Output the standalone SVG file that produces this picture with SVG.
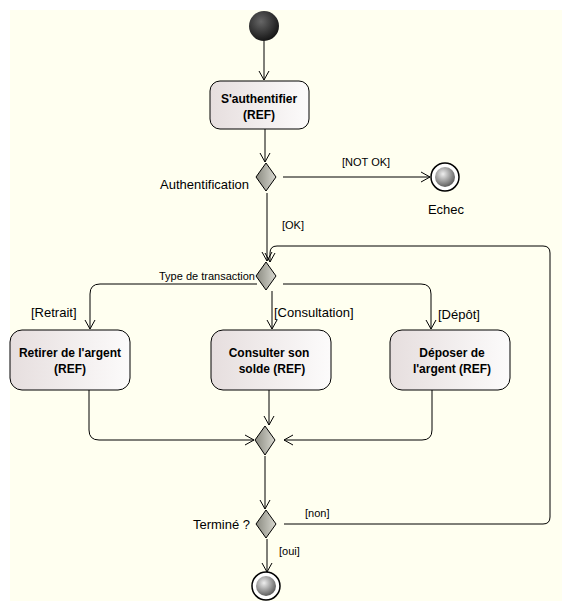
<svg xmlns="http://www.w3.org/2000/svg" width="572" height="612" viewBox="0 0 572 612">
<defs>
<linearGradient id="act" x1="0" y1="0" x2="1" y2="0"><stop offset="0" stop-color="#e6dede"/><stop offset="1" stop-color="#fcfbfb"/></linearGradient>
<linearGradient id="dia" x1="0" y1="0" x2="1" y2="0"><stop offset="0" stop-color="#8a8a80"/><stop offset="1" stop-color="#d8d8d0"/></linearGradient>
<radialGradient id="start" cx="0.4" cy="0.35" r="0.7"><stop offset="0" stop-color="#666"/><stop offset="1" stop-color="#111"/></radialGradient>
<radialGradient id="fin" cx="0.4" cy="0.35" r="0.7"><stop offset="0" stop-color="#eee"/><stop offset="1" stop-color="#555"/></radialGradient>
<marker id="arr" markerWidth="12" markerHeight="12" refX="10" refY="6" orient="auto" markerUnits="userSpaceOnUse"><path d="M1,1 L10,6 L1,11" fill="none" stroke="#000" stroke-width="1"/></marker>
</defs>
<style>
.act{fill:url(#act);stroke:#000;stroke-width:1}
.dia{fill:url(#dia);stroke:#000;stroke-width:1}
.t{font-family:"Liberation Sans",Arial,sans-serif;font-size:13px;fill:#000}
.b{font-family:"Liberation Sans",Arial,sans-serif;font-size:12px;font-weight:bold;fill:#000;text-anchor:middle}
.s{font-family:"Liberation Sans",Arial,sans-serif;font-size:11px;fill:#000}
.c{fill:none;stroke:#000;stroke-width:1}
</style>
<rect x="0" y="0" width="572" height="612" fill="#fff"/>
<rect x="10" y="10" width="552" height="591" fill="#fffff0"/>
<g id="connectors">
<path class="c" d="M264,41 V80" marker-end="url(#arr)"/>
<path class="c" d="M265,129 V162" marker-end="url(#arr)"/>
<path class="c" d="M283,177 H430" marker-end="url(#arr)"/>
<path class="c" d="M267,193 V261" marker-end="url(#arr)"/>
<path class="c" d="M257,284 H100 Q90,284 90,294 V329" marker-end="url(#arr)"/>
<path class="c" d="M272,291 V329" marker-end="url(#arr)"/>
<path class="c" d="M283,284 H421 Q431,284 431,294 V329" marker-end="url(#arr)"/>
<path class="c" d="M89,390 V430 Q89,440 99,440 H254" marker-end="url(#arr)"/>
<path class="c" d="M269,390 V425" marker-end="url(#arr)"/>
<path class="c" d="M432,390 V430 Q432,440 422,440 H284" marker-end="url(#arr)"/>
<path class="c" d="M265,456 V509" marker-end="url(#arr)"/>
<path class="c" d="M284,524 H543 Q550,524 550,517 V253 Q550,246 543,246 H277 Q270,246 270,253 V262" marker-end="url(#arr)"/>
<path class="c" d="M267,539 V572" marker-end="url(#arr)"/>
<text class="s" x="342" y="166">[NOT OK]</text>
<text class="s" x="282" y="229">[OK]</text>
<text class="t" x="31" y="317">[Retrait]</text>
<text class="t" x="274" y="317">[Consultation]</text>
<text class="t" x="438" y="319">[Dépôt]</text>
<text class="s" x="305" y="517">[non]</text>
<text class="s" x="279" y="555">[oui]</text>
</g>
<g id="start"><circle cx="264" cy="26" r="15" fill="url(#start)"/></g>
<g id="authentifier"><rect class="act" x="210" y="81" width="99" height="48" rx="10"/><text class="b" x="259" y="103">S'authentifier</text><text class="b" x="259" y="119">(REF)</text></g>
<g id="d-auth"><path class="dia" d="M266,163 L276,177 L266,191 L256,177 Z"/><text class="t" x="249" y="189" text-anchor="end">Authentification</text></g>
<g id="echec"><circle cx="445" cy="177" r="14" fill="#fff" stroke="#000" stroke-width="1.5"/><circle cx="445" cy="177" r="10" fill="url(#fin)"/><text class="t" x="446" y="214" text-anchor="middle">Echec</text></g>
<g id="d-type"><path class="dia" d="M266,262 L276,276 L266,290 L256,276 Z"/><text class="s" x="255" y="280" text-anchor="end">Type de transaction</text></g>
<g id="retirer"><rect class="act" x="10" y="330" width="120" height="60" rx="12"/><text class="b" x="70" y="357">Retirer de l'argent</text><text class="b" x="70" y="373">(REF)</text></g>
<g id="consulter"><rect class="act" x="211" y="330" width="120" height="60" rx="12"/><text class="b" x="269" y="357">Consulter son</text><text class="b" x="272" y="373">solde (REF)</text></g>
<g id="deposer"><rect class="act" x="390" y="330" width="120" height="60" rx="12"/><text class="b" x="452" y="357">Déposer de</text><text class="b" x="452" y="373">l'argent (REF)</text></g>
<g id="d-merge"><path class="dia" d="M265,426 L275,440 L265,455 L255,440 Z"/></g>
<g id="d-termine"><path class="dia" d="M266,510 L276,524 L266,538 L256,524 Z"/><text class="t" x="250" y="529" text-anchor="end">Terminé ?</text></g>
<g id="end"><circle cx="266" cy="586" r="14" fill="#fff" stroke="#000" stroke-width="1.5"/><circle cx="266" cy="586" r="10" fill="url(#fin)"/></g>
</svg>
